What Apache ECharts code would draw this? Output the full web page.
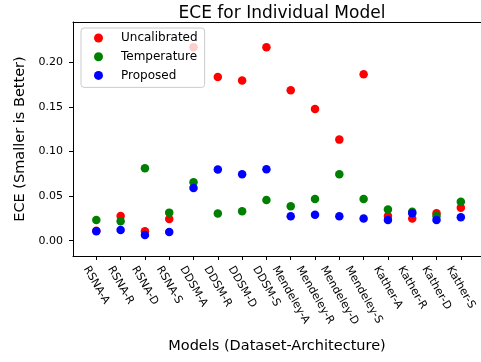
<!DOCTYPE html>
<html><head><meta charset="utf-8">
<script src="https://cdn.jsdelivr.net/npm/echarts@6/dist/echarts.min.js"></script>
<style>html,body{margin:0;padding:0;background:#fff}#c{width:481px;height:362px}</style>
</head><body><div id="c"></div>
<script>
var categories = ["RSNA-A","RSNA-R","RSNA-D","RSNA-S","DDSM-A","DDSM-R","DDSM-D","DDSM-S","Mendeley-A","Mendeley-R","Mendeley-D","Mendeley-S","Kather-A","Kather-R","Kather-D","Kather-S"];
var uncalibrated = [0.011,0.0277,0.0105,0.0243,0.2168,0.1835,0.1794,0.2168,0.1686,0.1476,0.1132,0.1865,0.0277,0.0247,0.0307,0.037];
var temperature = [0.0232,0.0217,0.0811,0.0314,0.0655,0.0303,0.033,0.0456,0.0385,0.0467,0.0744,0.0467,0.0348,0.0325,0.0277,0.0437];
var proposed = [0.0105,0.012,0.0064,0.0098,0.059,0.0796,0.0744,0.080,0.0273,0.0291,0.0273,0.0247,0.0232,0.0307,0.0232,0.0262];
var yTicks = [0, 0.05, 0.10, 0.15, 0.20];

function pts(arr){ return arr.map(function(v,i){ return [i, v]; }); }
var idx = categories.map(function(_,i){ return i; });
var font = 'DejaVu Sans';
var tickFont = 11;

// Centre each rotated (-60deg) category label horizontally under its tick (matplotlib ha='center')
var ctx = document.createElement('canvas').getContext('2d');
ctx.font = tickFont + 'px "' + font + '"';
var s60 = Math.sin(Math.PI/3), c60 = Math.cos(Math.PI/3);
var lineH = tickFont * 1.16;
var rich = {};
categories.forEach(function(name, i){
  var L = ctx.measureText(name).width;
  var bboxH = L * s60 + lineH * c60;
  var dy = bboxH / 2;
  rich['l' + i] = {fontFamily: font, fontSize: tickFont, color: '#000',
    padding: [dy, 0, 0, 2 * s60 * dy]};
});

var xMin = -0.96, xMax = 15.83;
var chart = echarts.init(document.getElementById('c'), null, {renderer:'canvas'});
chart.setOption({
  animation: false,
  textStyle: {fontFamily: font},
  title: {text: 'ECE for Individual Model', left: 277, top: 0, textAlign: 'center',
    textStyle: {fontFamily: font, fontSize: 17, fontWeight: 'normal', color: '#000'}},
  grid: {left: 73, right: 0, top: 22, bottom: 106},
  legend: {
    orient: 'vertical', left: 81, top: 28, itemWidth: 9, itemHeight: 9, itemGap: 4.7,
    padding: [3, 7, 5, 13],
    backgroundColor: 'rgba(255,255,255,0.8)', borderColor: '#cccccc', borderWidth: 1, borderRadius: 3,
    textStyle: {fontFamily: font, fontSize: 12, color: '#000', lineHeight: 14, padding: [0,0,0,13]},
    data: [{name:'Uncalibrated', icon:'circle'},{name:'Temperature', icon:'circle'},{name:'Proposed', icon:'circle'}]
  },
  xAxis: [{
    type: 'value', min: xMin, max: xMax,
    name: 'Models (Dataset-Architecture)', nameLocation: 'middle', nameGap: 83,
    nameTextStyle: {fontFamily: font, fontSize: 14.5, color: '#000'},
    axisLine: {onZero: false, lineStyle: {color: '#000'}},
    axisTick: {show: true, length: 4, lineStyle: {color: '#000'}, customValues: idx},
    axisLabel: {customValues: idx, rotate: -60, margin: 8, align: 'center', verticalAlign: 'middle',
      fontFamily: font, fontSize: tickFont, color: '#000', rich: rich,
      formatter: function(v){ var i = Math.round(v); return categories[i] ? '{l' + i + '|' + categories[i] + '}' : ''; }},
    splitLine: {show: false}
  }, {
    type: 'value', min: xMin, max: xMax, position: 'top',
    axisLine: {show: true, onZero: false, lineStyle: {color: '#000'}},
    axisTick: {show: false}, axisLabel: {show: false}, splitLine: {show: false}
  }],
  yAxis: {
    type: 'value', min: -0.0172, max: 0.245,
    name: 'ECE (Smaller is Better)', nameLocation: 'middle', nameGap: 43,
    nameTextStyle: {fontFamily: font, fontSize: 14.5, color: '#000'},
    axisLine: {show: true, onZero: false, lineStyle: {color: '#000'}},
    axisTick: {show: true, length: 4, lineStyle: {color: '#000'}, customValues: yTicks},
    axisLabel: {customValues: yTicks, margin: 10, fontFamily: font, fontSize: tickFont, color: '#000',
      formatter: function(v){ return v.toFixed(2); }},
    splitLine: {show: false}
  },
  series: [
    {name:'Uncalibrated', type:'scatter', symbolSize: 8.5, itemStyle:{color:'#ff0000', opacity: 1}, data: pts(uncalibrated)},
    {name:'Temperature', type:'scatter', symbolSize: 8.5, itemStyle:{color:'#008000', opacity: 1}, data: pts(temperature)},
    {name:'Proposed', type:'scatter', symbolSize: 8.5, itemStyle:{color:'#0000ff', opacity: 1}, data: pts(proposed)}
  ]
});
</script></body></html>
